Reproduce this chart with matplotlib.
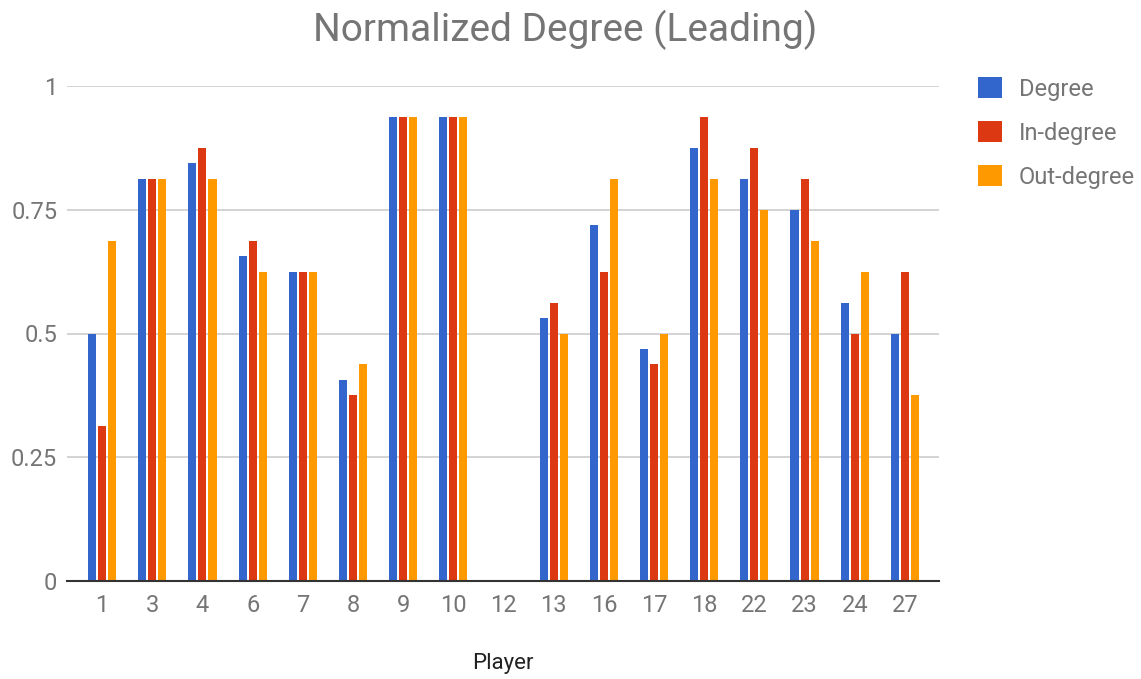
import numpy as np
import matplotlib.pyplot as plt
from matplotlib.patches import Patch

players = ['1', '3', '4', '6', '7', '8', '9', '10', '12', '13', '16', '17', '18', '22', '23', '24', '27']
in_degree = [0.3125, 0.8125, 0.875, 0.6875, 0.625, 0.375, 0.9375, 0.9375, 0,
             0.5625, 0.625, 0.4375, 0.9375, 0.875, 0.8125, 0.5, 0.625]
out_degree = [0.6875, 0.8125, 0.8125, 0.625, 0.625, 0.4375, 0.9375, 0.9375, 0,
              0.5, 0.8125, 0.5, 0.8125, 0.75, 0.6875, 0.625, 0.375]
degree = [0.5, 0.8125, 0.84375, 0.65625, 0.625, 0.40625, 0.9375, 0.9375, 0,
          0.53125, 0.71875, 0.46875, 0.875, 0.8125, 0.75, 0.5625, 0.5]

series = [('Degree', degree, '#3366CC'),
          ('In-degree', in_degree, '#DC3912'),
          ('Out-degree', out_degree, '#FF9900')]

plt.rcParams['font.family'] = ['Roboto', 'DejaVu Sans']
txt = '#757575'

fig = plt.figure(figsize=(11.41, 6.79), dpi=100)
ax = fig.add_axes([67 / 1141, 1 - 581 / 679, 872 / 1141, 495 / 679])

x = np.arange(len(players))
w = 0.16
step = 0.2
for i, (name, vals, col) in enumerate(series):
    ax.bar(x + (i - 1) * step, vals, width=w, color=col, zorder=3)

ax.set_xlim(-0.7, len(players) - 1 + 0.68)
ax.set_ylim(0, 1)
ax.set_yticks([0, 0.25, 0.5, 0.75, 1])
ax.set_yticklabels(['0', '0.25', '0.5', '0.75', '1'])
ax.set_xticks(x)
ax.set_xticklabels(players)
ax.tick_params(length=0, labelsize=17, colors=txt)
ax.tick_params(axis='x', pad=9)
ax.tick_params(axis='y', pad=7)
ax.grid(axis='y', color='#cccccc', linewidth=1.2, zorder=0)
for s in ['top', 'right', 'left']:
    ax.spines[s].set_visible(False)
ax.spines['bottom'].set_color('#333333')
ax.spines['bottom'].set_linewidth(1.5)
ax.spines['bottom'].set_zorder(4)

ax.set_xlabel('Player', fontsize=16, color='#222222')
ax.xaxis.set_label_coords(0.5, -(663 - 581) / 495)
ax.xaxis.label.set_va('center')
fig.text(0.495, 1 - 30 / 679, 'Normalized Degree (Leading)', ha='center', va='center',
         fontsize=28, color=txt)

handles = [Patch(facecolor=c, edgecolor='none', label=n) for n, _, c in series]
fig.legend(handles=handles, loc='upper left', bbox_to_anchor=(978 / 1141, 1 - 77 / 679),
           frameon=False, fontsize=17, handlelength=1.02, handleheight=1.02,
           labelspacing=0.85, handletextpad=0.72, borderpad=0, borderaxespad=0,
           labelcolor=txt)

fig.savefig('out.png', dpi=100)
